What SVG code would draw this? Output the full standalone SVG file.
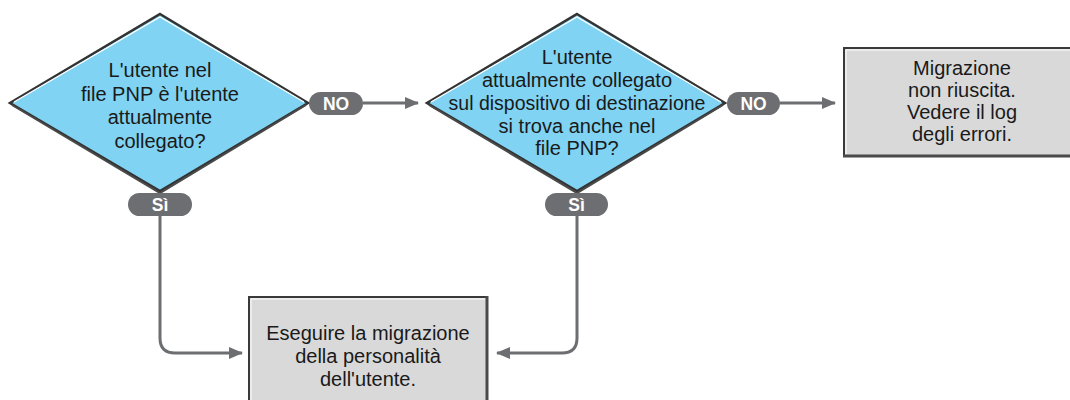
<svg xmlns="http://www.w3.org/2000/svg" width="1070" height="400" viewBox="0 0 1070 400">
<defs>
<style>
.dia{fill:#80d3f2;stroke:#333333;stroke-width:2.5;stroke-linejoin:miter}
.hl{fill:none;stroke:#ffffff;stroke-width:1.2}
.sh{fill:none;stroke:#4a4a4a;stroke-width:2}
.box{fill:#d9d9d9;stroke:#3a3a3a;stroke-width:2}
.t{font-family:"Liberation Sans",Arial,sans-serif;font-size:20px;fill:#1a1a1a;text-anchor:middle}
.pill{fill:#6d6e71}
.pt{font-family:"Liberation Sans",Arial,sans-serif;font-size:17.5px;font-weight:bold;fill:#ffffff;text-anchor:middle}
.con{fill:none;stroke:#6d6e71;stroke-width:3}
</style>
<marker id="ah" markerWidth="14" markerHeight="14" viewBox="0 0 14 14" refX="13" refY="7" orient="auto" markerUnits="userSpaceOnUse">
<path d="M0,1 L14,7 L0,13 Z" fill="#6d6e71"/>
</marker>
</defs>

<g id="connectors">
<path class="con" d="M363,103 H418" marker-end="url(#ah)"/>
<path class="con" d="M780,103 H835" marker-end="url(#ah)"/>
<path class="con" d="M160,216 V338 Q160,353 175,353 H242" marker-end="url(#ah)"/>
<path class="con" d="M577,216 V338 Q577,353 562,353 H497" marker-end="url(#ah)"/>
</g>

<g id="decision1">
<polygon class="dia" points="160,14 308,103 160,191 10,103"/>
<polyline class="hl" points="14,102 160,17 304,102"/>
<polyline class="sh" points="12,105 160,193 306,105"/>
<text class="t" x="160" y="77">L'utente nel</text>
<text class="t" x="160" y="101">file PNP è l'utente</text>
<text class="t" x="160" y="124">attualmente</text>
<text class="t" x="160" y="148">collegato?</text>
</g>

<g id="label-no1">
<rect class="pill" x="309" y="92" width="54" height="23" rx="11.5"/>
<text class="pt" x="336" y="110">NO</text>
</g>

<g id="decision2">
<polygon class="dia" points="577,14 725,103 577,191 427,103"/>
<polyline class="hl" points="431,102 577,17 721,102"/>
<polyline class="sh" points="429,105 577,193 723,105"/>
<text class="t" x="577" y="64">L'utente</text>
<text class="t" x="577" y="87">attualmente collegato</text>
<text class="t" x="577" y="110" style="font-size:19.5px">sul dispositivo di destinazione</text>
<text class="t" x="577" y="133">si trova anche nel</text>
<text class="t" x="577" y="155">file PNP?</text>
</g>

<g id="label-no2">
<rect class="pill" x="727" y="92" width="53" height="23" rx="11.5"/>
<text class="pt" x="753.5" y="110">NO</text>
</g>

<g id="label-si1">
<rect class="pill" x="128" y="193" width="64" height="23" rx="11.5"/>
<text class="pt" x="160" y="211">Sì</text>
</g>

<g id="label-si2">
<rect class="pill" x="545" y="193" width="63" height="23" rx="11.5"/>
<text class="pt" x="576.5" y="211">Sì</text>
</g>

<g id="fail">
<rect class="box" x="844" y="48" width="240" height="108"/>
<line x1="846" y1="50" x2="1070" y2="50" stroke="#ffffff" stroke-width="1"/>
<line x1="846" y1="50" x2="846" y2="154" stroke="#ffffff" stroke-width="1"/>
<line x1="843" y1="156" x2="1070" y2="156" stroke="#4a4a4a" stroke-width="3"/>
<text class="t" x="962" y="75">Migrazione</text>
<text class="t" x="962" y="97">non riuscita.</text>
<text class="t" x="962" y="119">Vedere il log</text>
<text class="t" x="962" y="141">degli errori.</text>
</g>

<g id="migrate">
<rect class="box" x="249" y="297" width="238" height="120"/>
<line x1="251" y1="299" x2="485" y2="299" stroke="#ffffff" stroke-width="1"/>
<line x1="251" y1="299" x2="251" y2="400" stroke="#ffffff" stroke-width="1"/>
<line x1="487" y1="296" x2="487" y2="400" stroke="#4a4a4a" stroke-width="3"/>
<text class="t" x="368" y="340">Eseguire la migrazione</text>
<text class="t" x="368" y="363">della personalità</text>
<text class="t" x="368" y="386">dell'utente.</text>
</g>
</svg>
